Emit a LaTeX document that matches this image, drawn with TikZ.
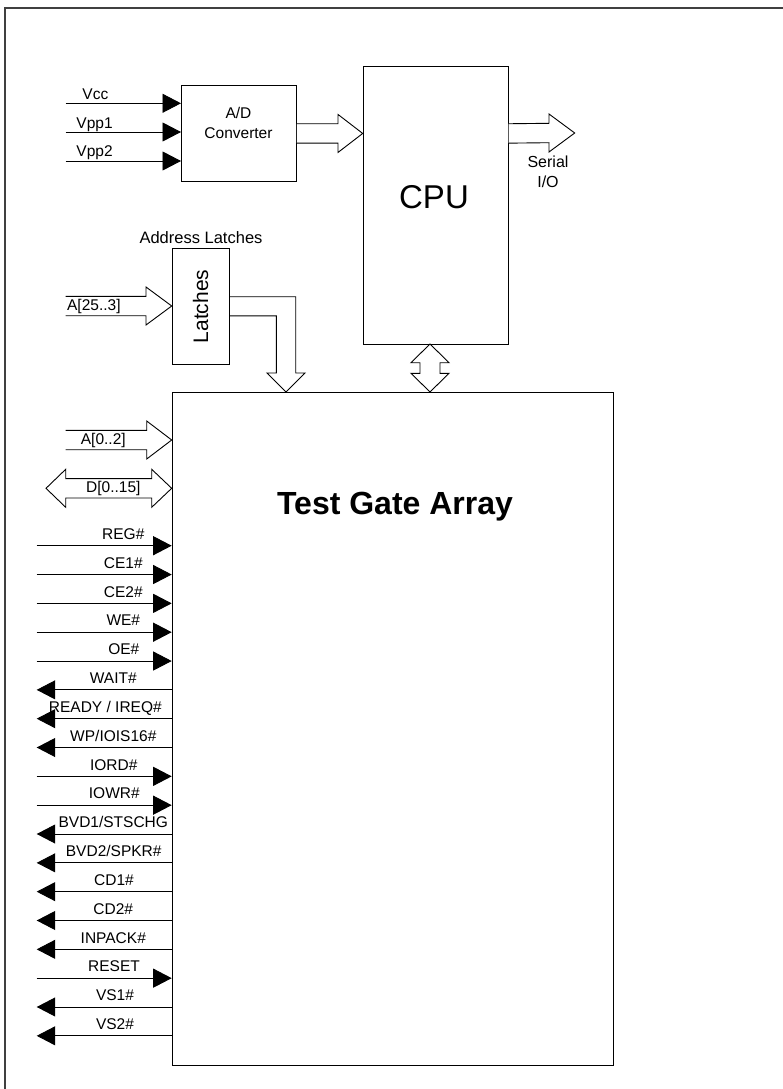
\documentclass[tikz,border=0pt]{standalone}
\usepackage{fontspec}
\setmainfont{Liberation Sans}
\usetikzlibrary{arrows.meta,calc}
\begin{document}
\begin{tikzpicture}[x=1pt,y=-1pt,line width=0.9pt,
  blk/.style={draw,inner sep=0pt,anchor=north west},
  txt/.style={inner sep=0pt,font=\fontsize{15.5}{20}\selectfont},
  bus/.style={draw,fill=white,line join=miter},
  sigin/.style={-{Triangle[length=18.5pt,width=19pt]}},
  sigout/.style={{Triangle[length=18.5pt,width=19pt]}-},
  siglab/.style={inner sep=0pt,anchor=base,font=\fontsize{15.5}{18}\selectfont}]
\useasboundingbox (0,0) rectangle (783,1089);
% outer frame
\draw[line width=1.2pt,black!75] (783,8) -- (5,8) -- (5,1089);

% blocks
\node[blk,minimum width=115pt,minimum height=96pt] (ad) at (181,85) {};
\node[blk,minimum width=145pt,minimum height=278.3pt] (cpu) at (362.7,65.7) {};
\node[blk,minimum width=57.6pt,minimum height=115.7pt] (latch) at (171.7,248.3) {};
\node[blk,minimum width=441.6pt,minimum height=673pt] (tga) at (171.7,392) {};

% block texts
\node[txt,align=center] (adtxt) at (238.5,123) {A/D\\Converter};
\node[inner sep=0pt,font=\fontsize{33}{36}\selectfont] (cputxt) at (434,197) {CPU};
\node[txt,align=center,font=\fontsize{16}{20}\selectfont] (sertxt) at (548,171.7) {Serial\\I/O};
\node[txt,font=\fontsize{16.5}{20}\selectfont] (addrtxt) at (201,238) {Address Latches};
\node[inner sep=0pt,rotate=90,font=\fontsize{21}{24}\selectfont] (latchtxt) at (200.7,306.5) {Latches};
\node[inner sep=0pt,font=\fontsize{32}{36}\selectfont\bfseries] (tgatxt) at (395,507) {Test Gate Array};

% power inputs
\coordinate (v1) at (65.7,103.3);
\coordinate (v2) at (65.7,132);
\coordinate (v3) at (65.7,161);
\draw[sigin] (v1) -- (v1 -| ad.west);
\draw[sigin] (v2) -- (v2 -| ad.west);
\draw[sigin] (v3) -- (v3 -| ad.west);
\node[txt,anchor=base west] (vcc) at (82,100) {Vcc};
\node[txt,anchor=base west] (vpp1) at (76,128.3) {Vpp1};
\node[txt,anchor=base west] (vpp2) at (76,156.8) {Vpp2};

% A/D -> CPU bus
\coordinate (adtip) at (cpu.west |- ad.east);
\draw[bus] ($(ad.east)+(0,-9.7)$) -- ($(adtip)+(-24.7,-9.7)$) -- ($(adtip)+(-24.7,-19)$) -- (adtip)
  -- ($(adtip)+(-24.7,19)$) -- ($(adtip)+(-24.7,9.7)$) -- ($(ad.east)+(0,9.7)$);

% Serial I/O bus
\coordinate (serst) at (cpu.east |- ad.east);
\coordinate (sertip) at (574.7,133);
\draw[bus] ($(serst)+(0,-9.7)$) -- ($(sertip)+(-25.7,-9.7)$) -- ($(sertip)+(-25.7,-19)$) -- (sertip)
  -- ($(sertip)+(-25.7,19)$) -- ($(sertip)+(-25.7,9.7)$) -- ($(serst)+(0,9.7)$);

% A[25..3] bus
\coordinate (a25) at (65.7,306);
\coordinate (a25tip) at (latch.west |- a25);
\draw[bus] ($(a25)+(0,-9.7)$) -- ($(a25tip)+(-25.7,-9.7)$) -- ($(a25tip)+(-25.7,-19)$) -- (a25tip)
  -- ($(a25tip)+(-25.7,19)$) -- ($(a25tip)+(-25.7,9.7)$) -- ($(a25)+(0,9.7)$);
\node[txt,anchor=west] (a25lab) at (66.7,306) {A[25..3]};

% latches -> TGA bent bus
\coordinate (lt) at ($(tga.north west)+(114.3,0)$);
\draw[bus] ($(latch.east)+(0,-9.9)$) -| ($(lt)+(9.7,-19)$) -- ($(lt)+(19,-19)$) -- (lt)
  -- ($(lt)+(-19,-19)$) -- ($(lt)+(-9.7,-19)$) |- ($(latch.east)+(0,9.2)$);

% CPU <-> TGA bidirectional bus
\coordinate (ct) at (430,344);
\coordinate (cb) at (ct |- tga.north);
\draw[bus] (ct) -- ($(ct)+(19,18.7)$) -- ($(ct)+(10,18.7)$) -- ($(cb)+(10,-18.7)$) -- ($(cb)+(19,-18.7)$)
  -- (cb) -- ($(cb)+(-19,-18.7)$) -- ($(cb)+(-10,-18.7)$) -- ($(ct)+(-10,18.7)$) -- ($(ct)+(-19,18.7)$) -- cycle;

% A[0..2] bus
\coordinate (a02) at (65.7,440);
\coordinate (a02tip) at (tga.west |- a02);
\draw[bus] ($(a02)+(0,-9.7)$) -- ($(a02tip)+(-25,-9.7)$) -- ($(a02tip)+(-25,-19)$) -- (a02tip)
  -- ($(a02tip)+(-25,19)$) -- ($(a02tip)+(-25,9.7)$) -- ($(a02)+(0,9.7)$);
\node[txt] (a02lab) at (103.3,440) {A[0..2]};

% D[0..15] bidirectional bus
\coordinate (dl) at (46,488.3);
\coordinate (dr) at (tga.west |- dl);
\draw[bus] (dl) -- ($(dl)+(19.7,-19)$) -- ($(dl)+(19.7,-9.7)$) -- ($(dr)+(-20,-9.7)$) -- ($(dr)+(-20,-19)$)
  -- (dr) -- ($(dr)+(-20,19)$) -- ($(dr)+(-20,9.7)$) -- ($(dl)+(19.7,9.7)$) -- ($(dl)+(19.7,19)$) -- cycle;
\node[txt] (dlab) at (113.3,488.3) {D[0..15]};

% control signals
\foreach \lab/\lx/\dir [count=\i from 0] in {
  {REG\#}/123.3/sigin, {CE1\#}/123.3/sigin, {CE2\#}/123.3/sigin, {WE\#}/123.3/sigin, {OE\#}/123.8/sigin,
  {WAIT\#}/113.3/sigout, {READY / IREQ\#}/105.3/sigout, {WP/IOIS16\#}/113.3/sigout,
  {IORD\#}/113.7/sigin, {IOWR\#}/114.3/sigin, {BVD1/STSCHG}/113.3/sigout, {BVD2/SPKR\#}/113.7/sigout,
  {CD1\#}/114/sigout, {CD2\#}/113.3/sigout, {INPACK\#}/113.3/sigout, {RESET}/114/sigin,
  {VS1\#}/115/sigout, {VS2\#}/115/sigout} {
  \coordinate (s\i) at (36.7,{545.7+\i*28.83});
  \draw[\dir] (s\i) -- (s\i -| tga.west);
  \node[siglab] (l\i) at (\lx,{545.7+\i*28.83-6.2}) {\lab};
}
\end{tikzpicture}
\end{document}
